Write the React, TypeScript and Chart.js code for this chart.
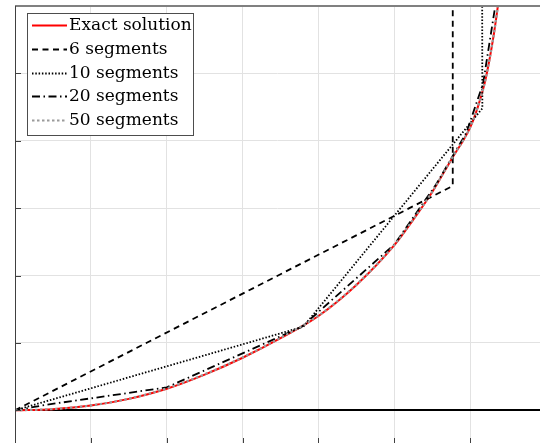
import React, { useEffect, useRef } from 'react';
import { Chart, registerables } from 'chart.js';

Chart.register(...registerables);

// Exact solution
const exactX = [0, 0.5, 1, 1.5, 2, 2.5, 3, 3.5, 4, 4.5, 5, 5.25, 5.5, 5.75, 6, 6.1, 6.2, 6.3, 6.36, 6.42];
const exactY = [0, 0.017, 0.07, 0.17, 0.32, 0.53, 0.78, 1.07, 1.4, 1.86, 2.45, 2.83, 3.24, 3.72, 4.2, 4.5, 4.9, 5.5, 5.96, 6.5];

// 6 segments
const seg6X = [0, 5.77, 5.77];
const seg6Y = [0, 3.33, 12];

// 10 segments
const seg10X = [0, 3.8, 6.16, 6.15];
const seg10Y = [0, 1.24, 4.48, 12];

// 20 segments
const seg20X = [0, 0.4, 2.0, 3.78, 5.0, 5.55, 5.95, 6.17, 6.4];
const seg20Y = [0, 0.08, 0.34, 1.24, 2.46, 3.35, 4.12, 4.85, 6.5];

// 50 segments
const seg50X = [0, 0.5, 1, 1.5, 2, 2.5, 3, 3.5, 4, 4.5, 5, 5.25, 5.5, 5.75, 6, 6.1, 6.2, 6.3, 6.36, 6.42];
const seg50Y = [0, 0.018, 0.072, 0.172, 0.325, 0.535, 0.785, 1.075, 1.405, 1.865, 2.455, 2.835, 3.245, 3.725, 4.2, 4.5, 4.9, 5.5, 5.96, 6.5];

const seriesLabels = ['Exact solution', '6 segments', '10 segments', '20 segments', '50 segments'];

const xTicks = [0, 1, 2, 3, 4, 5, 6];
const yTicks = [0, 1, 2, 3, 4, 5, 6];

function pts(xs: number[], ys: number[]) {
  return xs.map((x, i) => ({ x, y: ys[i] }));
}

export default function App() {
  const ref = useRef<HTMLCanvasElement>(null);

  useEffect(() => {
    if (!ref.current) return;

    const axesDecor = {
      id: 'axesDecor',
      afterDatasetsDraw(chart: any) {
        const { ctx, chartArea } = chart;
        const xs = chart.scales.x;
        const ys = chart.scales.y;
        ctx.save();
        ctx.strokeStyle = '#404040';
        ctx.lineWidth = 1;
        ctx.setLineDash([]);
        for (const v of xTicks) {
          const px = Math.round(xs.getPixelForValue(v)) + 0.5;
          ctx.beginPath();
          ctx.moveTo(px, chartArea.bottom);
          ctx.lineTo(px, chartArea.bottom - 6);
          ctx.stroke();
        }
        for (const v of yTicks) {
          const py = Math.round(ys.getPixelForValue(v)) + 0.5;
          ctx.beginPath();
          ctx.moveTo(chartArea.left, py);
          ctx.lineTo(chartArea.left + 6, py);
          ctx.stroke();
        }
        // top frame line
        ctx.strokeStyle = '#808080';
        ctx.lineWidth = 2;
        ctx.beginPath();
        ctx.moveTo(chartArea.left, chartArea.top);
        ctx.lineTo(chartArea.right, chartArea.top);
        ctx.stroke();
        // left frame line
        ctx.strokeStyle = '#404040';
        ctx.lineWidth = 1;
        ctx.beginPath();
        ctx.moveTo(chartArea.left + 0.5, chartArea.top);
        ctx.lineTo(chartArea.left + 0.5, chartArea.bottom);
        ctx.stroke();
        ctx.restore();
      },
    };

    const boxLegend = {
      id: 'boxLegend',
      afterDraw(chart: any) {
        const { ctx, chartArea } = chart;
        const left = chartArea.left + 12;
        const top = chartArea.top + 7;
        const w = 166;
        const h = 122;
        ctx.save();
        ctx.fillStyle = '#ffffff';
        ctx.fillRect(left, top, w, h);
        ctx.strokeStyle = '#4d4d4d';
        ctx.lineWidth = 1;
        ctx.setLineDash([]);
        ctx.strokeRect(left + 0.5, top + 0.5, w, h);
        ctx.font = '17px "DejaVu Serif"';
        ctx.textBaseline = 'middle';
        ctx.textAlign = 'left';
        chart.data.datasets.forEach((ds: any, i: number) => {
          const cy = Math.round(top + 12 + i * 23.8) + 0.5;
          ctx.strokeStyle = ds.borderColor;
          ctx.lineWidth = ds.borderWidth;
          ctx.setLineDash(ds.borderDash || []);
          ctx.beginPath();
          ctx.moveTo(left + 5, cy);
          ctx.lineTo(left + 40, cy);
          ctx.stroke();
          ctx.setLineDash([]);
          ctx.fillStyle = '#000000';
          ctx.fillText(ds.label, left + 42, cy);
        });
        ctx.restore();
      },
    };

    const chart = new Chart(ref.current, {
      type: 'line',
      data: {
        datasets: [
          {
            label: seriesLabels[0],
            data: pts(exactX, exactY),
            borderColor: '#ff0000',
            borderWidth: 2,
            borderDash: [],
            cubicInterpolationMode: 'monotone',
            order: 4,
          },
          {
            label: seriesLabels[1],
            data: pts(seg6X, seg6Y),
            borderColor: '#000000',
            borderWidth: 1.8,
            borderDash: [6, 4.5],
            order: 3,
          },
          {
            label: seriesLabels[2],
            data: pts(seg10X, seg10Y),
            borderColor: '#000000',
            borderWidth: 1.8,
            borderDash: [1.5, 1.8],
            order: 2,
          },
          {
            label: seriesLabels[3],
            data: pts(seg20X, seg20Y),
            borderColor: '#000000',
            borderWidth: 1.8,
            borderDash: [8, 3.5, 1.5, 3.5],
            order: 1,
          },
          {
            label: seriesLabels[4],
            data: pts(seg50X, seg50Y),
            borderColor: '#9a9a9a',
            borderWidth: 2.2,
            borderDash: [2.5, 2.5],
            cubicInterpolationMode: 'monotone',
            order: 0,
          },
        ] as any,
      },
      options: {
        responsive: false,
        maintainAspectRatio: false,
        devicePixelRatio: 1,
        animation: false,
        layout: { padding: { left: 15, top: 6, right: 0, bottom: 0 } },
        elements: {
          point: { radius: 0, hoverRadius: 0 },
          line: { tension: 0, fill: false },
        },
        plugins: {
          legend: { display: false },
          tooltip: { enabled: false },
        },
        scales: {
          x: {
            type: 'linear',
            min: 0,
            max: 6.92,
            ticks: { display: false, stepSize: 1, includeBounds: false },
            grid: {
              drawTicks: false,
              color: '#e2e2e2',
              lineWidth: 1,
            },
            border: { display: false },
          },
          y: {
            type: 'linear',
            min: -0.5,
            max: 6,
            ticks: { display: false, stepSize: 1, includeBounds: false },
            grid: {
              drawTicks: false,
              color: (c: any) => (c.tick && c.tick.value === 0 ? '#000000' : '#e2e2e2'),
              lineWidth: (c: any) => (c.tick && c.tick.value === 0 ? 2 : 1),
            },
            border: { display: false },
          },
        },
      },
      plugins: [axesDecor, boxLegend],
    } as any);

    return () => chart.destroy();
  }, []);

  return (
    <div style={{ position: 'fixed', left: 0, top: 0, width: 540, height: 444, background: '#ffffff' }}>
      <canvas ref={ref} width={540} height={444} style={{ display: 'block', width: 540, height: 444 }} />
    </div>
  );
}
